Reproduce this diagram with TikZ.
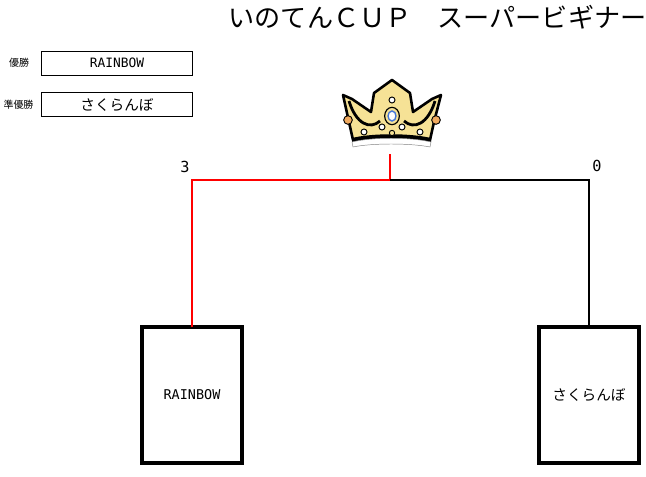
\documentclass[tikz,border=0pt]{standalone}
\usepackage{fontspec}
\usepackage{xcolor}
\usepackage{tikz}
\setmainfont{Noto Sans CJK JP}
\newfontfamily\monof{DejaVu Sans Mono}
\definecolor{crowngold}{RGB}{246,226,150}
\definecolor{jewelorange}{RGB}{240,170,95}
\definecolor{jewelblue}{RGB}{70,120,215}

\begin{document}
\begin{tikzpicture}[x=0.03cm,y=-0.03cm,semithick]
    \tikzstyle{team}=[draw, rectangle, line width=3pt, minimum width=3cm, minimum height=4.08cm, outer sep=0pt, inner sep=0pt]
    \tikzstyle{result}=[draw, rectangle, line width=0.85pt, minimum width=4.5cm, minimum height=0.72cm, outer sep=0pt, inner sep=0pt]
    \tikzstyle{label}=[inner sep=0pt, font=\fontsize{8.5}{10}\selectfont]
    \tikzstyle{score}=[inner sep=0pt, font=\monof\fontsize{13}{15}\selectfont]
    \useasboundingbox (0,0) rectangle (646,476);
    \node[inner sep=0pt, font=\fontsize{22.3}{24}\selectfont] (title) at (437.5,17){いのてんＣＵＰ　スーパービギナー};
    \node[label] (winlbl) at (19,63){優勝};
    \node[result, font=\monof\fontsize{11}{12}\selectfont] (win) at (117,63){RAINBOW};
    \node[label] (runlbl) at (18.5,104.5){準優勝};
    \node[result, font=\fontsize{12.5}{14}\selectfont] (run) at (117,104.5){さくらんぼ};
    % crown
    \fill[crowngold, draw=black, line width=2.2pt, line join=round] (343,95) -- (352,99) -- (371,112) -- (374,93) -- (392,80) -- (410,93) -- (413,112) -- (432,99) -- (441,95) -- (434,122) -- (430,140) .. controls (410,136) and (372,136) .. (353,140) -- (349,122) -- cycle;
    \draw[line width=2.4pt] (349,101) .. controls (356,124) and (370,130) .. (380,121);
    \draw[line width=2.4pt] (435,101) .. controls (428,124) and (414,130) .. (404,121);
    \fill (352,138) .. controls (372,133) and (410,133) .. (431,138) -- (431,142) .. controls (410,137) and (372,137) .. (352,142) -- cycle;
    \filldraw[fill=white, draw=gray, thin] (352,142) .. controls (372,137) and (410,137) .. (431,142) -- (430,147) .. controls (410,143) and (372,143) .. (353,147) -- cycle;
    \filldraw[fill=crowngold, draw=black, line width=1pt] (392,116) ellipse (0.22cm and 0.26cm);
    \filldraw[fill=white, draw=jewelblue, line width=1.2pt] (392,116) ellipse (0.12cm and 0.15cm);
    \foreach \px/\py in {392/100, 382/127, 402/127, 364/132, 420/132}
        \filldraw[fill=white, draw=black, line width=0.8pt] (\px,\py) circle[radius=0.09cm];
    \filldraw[fill=crowngold, draw=black, line width=0.8pt] (392,133) circle[radius=0.08cm];
    \filldraw[fill=jewelorange, draw=black, line width=0.8pt] (348,120) circle[radius=0.13cm];
    \filldraw[fill=jewelorange, draw=black, line width=0.8pt] (436,120) circle[radius=0.13cm];
    \coordinate (crown) at (390,154);
    \coordinate (top) at (390,180);
    % bracket
    \node[team, font=\monof\fontsize{11.5}{13}\selectfont] (rb) at (192,395){RAINBOW};
    \node[team, font=\fontsize{12.5}{14}\selectfont] (sb) at (589,395){さくらんぼ};
    \node[score] (s1) at (185,167){3};
    \node[score] (s2) at (597,166){0};
    \draw[red, line width=1.7pt] (rb.north) |- (top) -- (crown);
    \draw[line width=1.2pt] (top) -| (sb.north);
\end{tikzpicture}
\end{document}
